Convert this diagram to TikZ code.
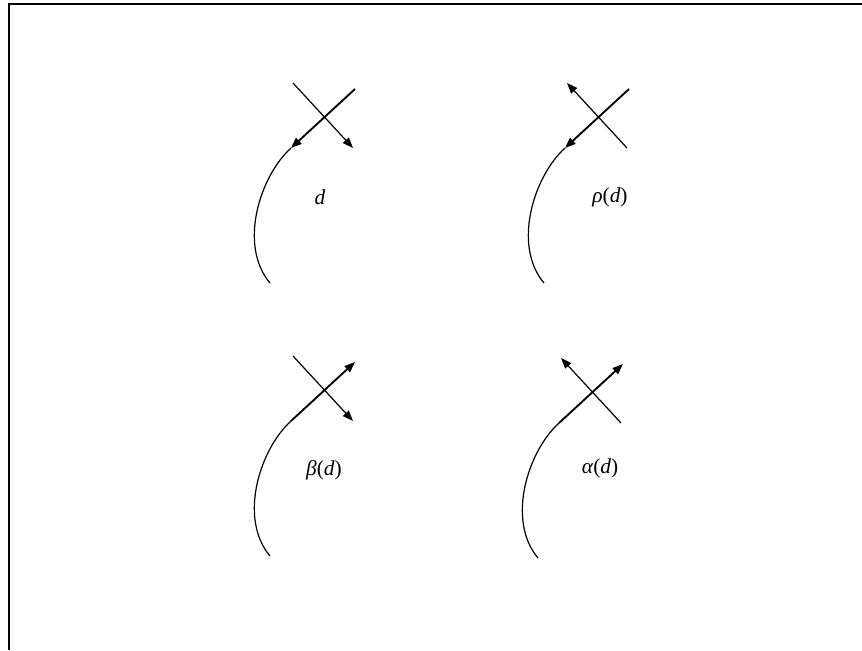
\documentclass[tikz,border=0pt]{standalone}
\usepackage{fontspec}
\setmainfont{Liberation Serif}
\usetikzlibrary{arrows.meta}
\tikzset{
  frameline/.style={draw=black, line width=1.5pt},
  strandline/.style={draw=black, line width=1.4pt},
  thinline/.style={draw=black, line width=.9pt},
  headtip/.style={-{Triangle[length=8pt,width=6pt]}},
  knotlabel/.style={font=\fontsize{16}{19}\selectfont, inner sep=0pt}
}

\begin{document}
\begin{tikzpicture}[x=.75pt,y=-.75pt]
  \useasboundingbox (0,0) rectangle (862,650);
  \draw[frameline] (9,650) -- (9,4) -- (862,4);

  % d
  \begin{scope}
    \coordinate (d-nw) at (293,83);
    \coordinate (d-se) at (353,148);
    \coordinate (d-ne) at (355,89);
    \coordinate (d-bend) at (291,148);
    \coordinate (d-end) at (270,283);
    \draw[thinline, headtip] (d-nw) -- (d-se);
    \draw[strandline, headtip] (d-ne) -- (d-bend);
    \draw[thinline] (d-bend) .. controls (260,176) and (238,245) .. (d-end);
  \end{scope}
  \node[knotlabel] (dlabel) at (320,197) {\itshape d};

  % rho(d)
  \begin{scope}[xshift=274*.75pt]
    \coordinate (r-nw) at (293,83);
    \coordinate (r-se) at (353,148);
    \coordinate (r-ne) at (355,89);
    \coordinate (r-bend) at (291,148);
    \coordinate (r-end) at (270,283);
    \draw[thinline, headtip] (r-se) -- (r-nw);
    \draw[strandline, headtip] (r-ne) -- (r-bend);
    \draw[thinline] (r-bend) .. controls (260,176) and (238,245) .. (r-end);
  \end{scope}
  \node[knotlabel] (rholabel) at (610,197) {\textit{ρ}(\textit{d})};

  % beta(d)
  \begin{scope}[yshift=-273*.75pt]
    \coordinate (b-nw) at (293,83);
    \coordinate (b-se) at (353,148);
    \coordinate (b-ne) at (355,89);
    \coordinate (b-bend) at (291,148);
    \coordinate (b-end) at (270,283);
    \draw[thinline, headtip] (b-nw) -- (b-se);
    \draw[thinline] (b-end) .. controls (238,245) and (260,176) .. (b-bend);
    \draw[strandline, headtip] (b-bend) -- (b-ne);
  \end{scope}
  \node[knotlabel] (betalabel) at (324,470) {\textit{β}(\textit{d})};

  % alpha(d)
  \begin{scope}[xshift=268*.75pt, yshift=-275*.75pt]
    \coordinate (a-nw) at (293,83);
    \coordinate (a-se) at (353,148);
    \coordinate (a-ne) at (355,89);
    \coordinate (a-bend) at (291,148);
    \coordinate (a-end) at (270,283);
    \draw[thinline, headtip] (a-se) -- (a-nw);
    \draw[thinline] (a-end) .. controls (238,245) and (260,176) .. (a-bend);
    \draw[strandline, headtip] (a-bend) -- (a-ne);
  \end{scope}
  \node[knotlabel] (alphalabel) at (600,468) {\textit{α}(\textit{d})};
\end{tikzpicture}
\end{document}
